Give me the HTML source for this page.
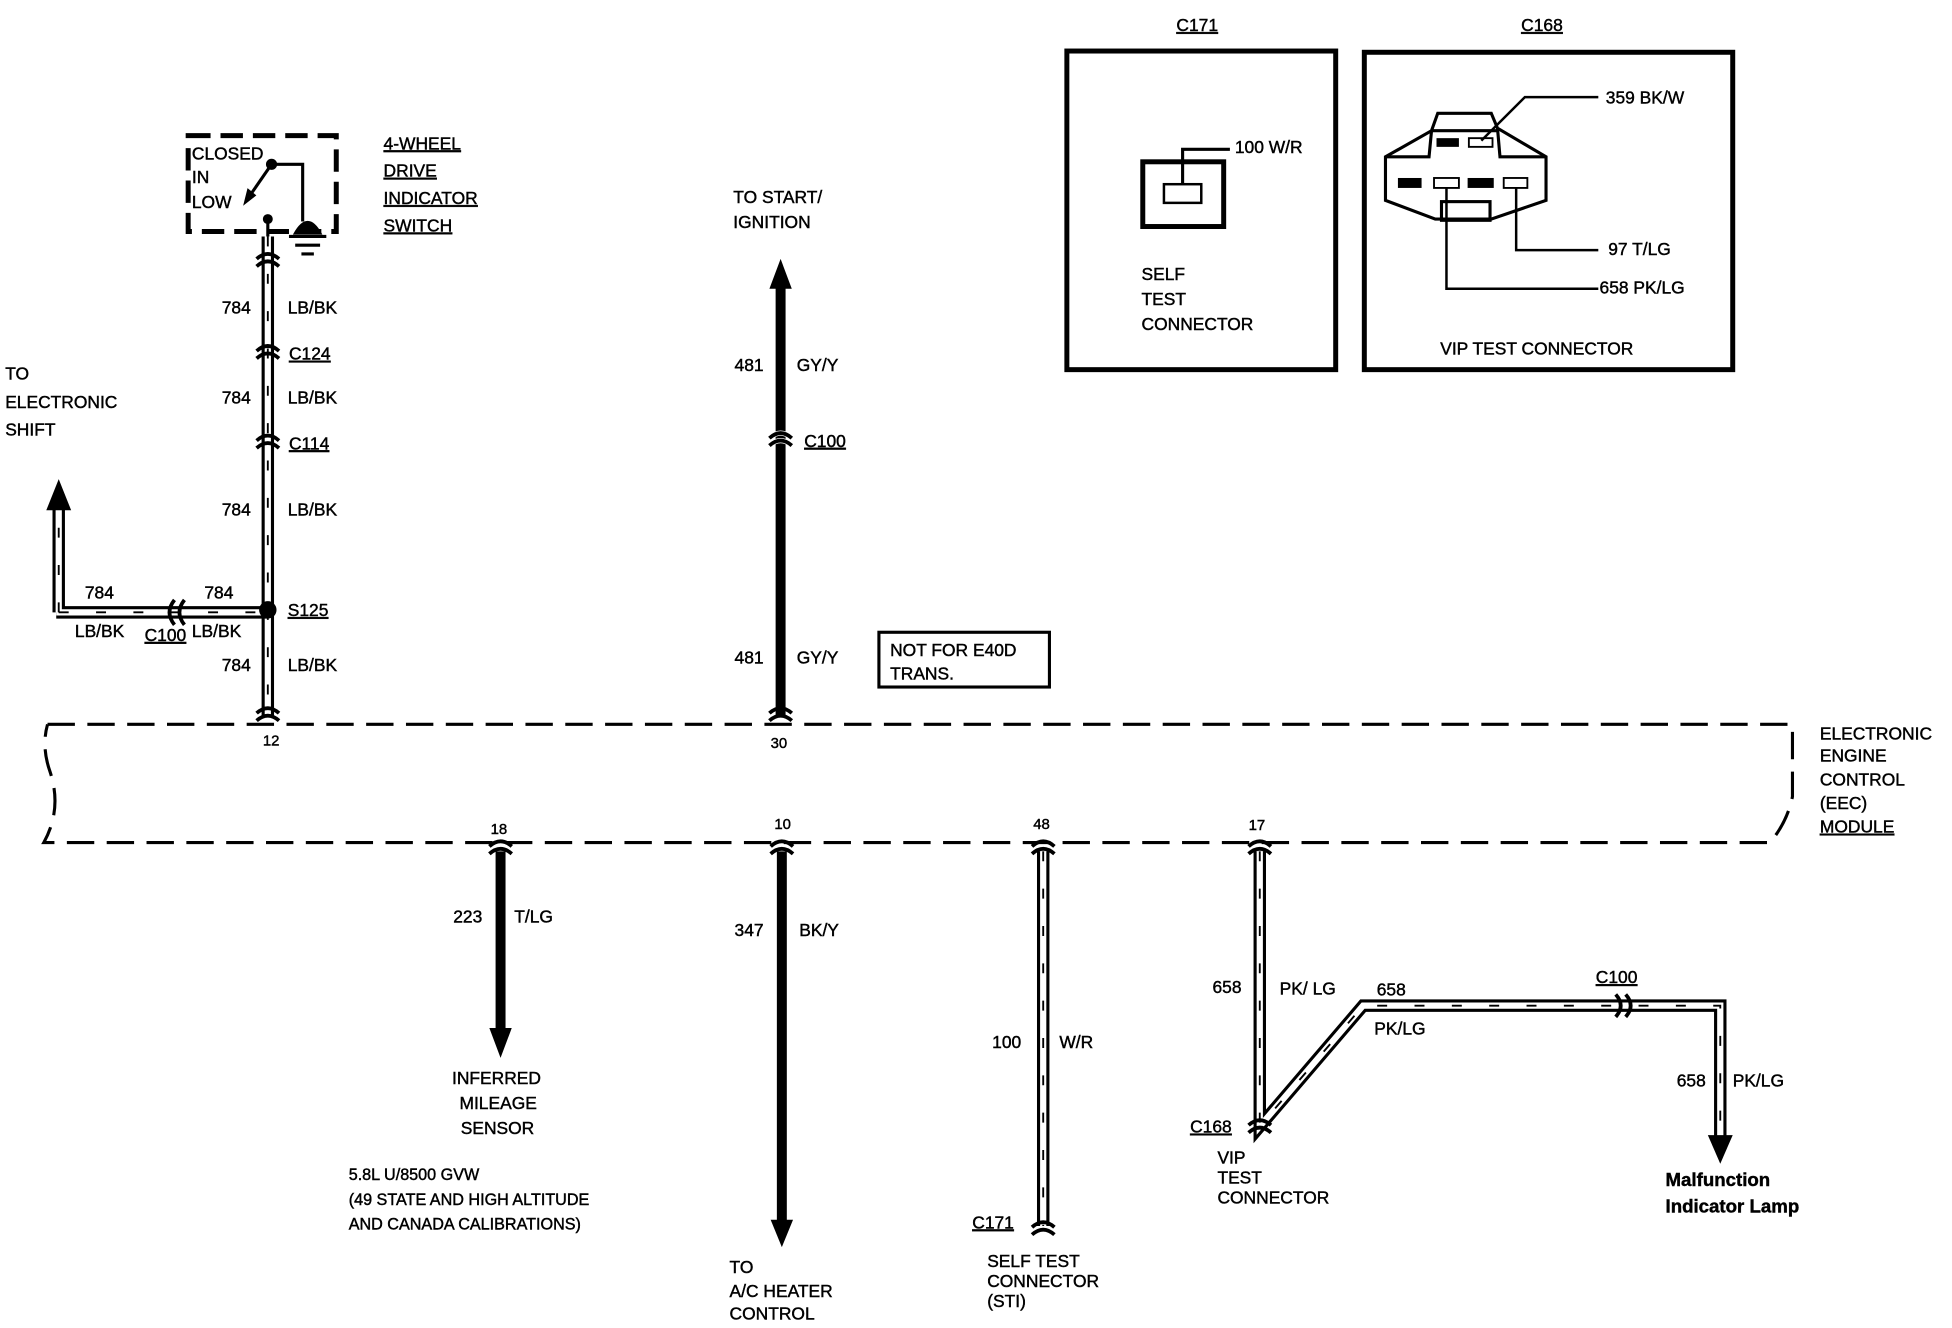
<!DOCTYPE html>
<html><head><meta charset="utf-8"><style>
html,body{margin:0;padding:0;background:#fff}
svg{display:block}
text{font-family:"Liberation Sans",sans-serif;font-size:14px;fill:#000;stroke:#000;stroke-width:0.35px}
.u{text-decoration:underline}
</style></head><body>
<svg width="1952" height="1328" viewBox="0 0 1568 1067" xmlns="http://www.w3.org/2000/svg">
<defs>
<g id="cv"><path d="M-9,-2 Q0,-10 9,-2 M-9,4 Q0,-4 9,4" fill="none" stroke="#000" stroke-width="3"/></g>
</defs>
<g fill="none" stroke="#000">
<rect x="151" y="109" width="119" height="77" stroke-width="4" stroke-dasharray="18 8"/>
<path d="M218,132 H243 V178" stroke-width="2.5"/>
<circle cx="218" cy="132" r="4" fill="#000"/>
<path d="M218,132 L200,158" stroke-width="2.5"/>
<path d="M196,164 L199,152 L205,157 Z" fill="#000"/>
<circle cx="215" cy="176" r="3.5" fill="#000"/>
<path d="M215,176 V190" stroke-width="2.5"/>
<path d="M236,188 Q247,168 258,188 Z" fill="#000"/>
<path d="M232,190 H262 M237,197 H257 M242,204 H252" stroke-width="2.5"/>
<path d="M215,190 V575" stroke-width="10"/>
<path d="M215,190 V575" stroke="#fff" stroke-width="5"/>
<path d="M215,190 V575" stroke-width="1.5" stroke-dasharray="8 22"/>
<path d="M45,492 H215 M47,492 V405" stroke-width="10"/>
<path d="M45,492 H215 M47,492 V405" stroke="#fff" stroke-width="5"/>
<path d="M47,492 H215 M47,492 V405" stroke-width="1.5" stroke-dasharray="8 22"/>
</g>
<path d="M47,385 L37,410 H57 Z"/>
<use href="#cv" x="215" y="210"/>
<use href="#cv" x="215" y="284"/>
<use href="#cv" x="215" y="356"/>
<use href="#cv" x="215" y="575"/>
<g fill="none" stroke="#000" stroke-width="3"><path d="M140,482 Q132,492 140,502 M148,482 Q140,492 148,502"/></g>
<circle cx="215" cy="490" r="7"/>
<text x="154" y="128">CLOSED</text><text x="154" y="147">IN</text><text x="154" y="167">LOW</text>
<text x="308" y="120" class="u">4-WHEEL</text><text x="308" y="142" class="u">DRIVE</text>
<text x="308" y="164" class="u">INDICATOR</text><text x="308" y="186" class="u">SWITCH</text>
<text x="178" y="252">784</text><text x="231" y="252">LB/BK</text>
<text x="232" y="289" class="u">C124</text>
<text x="178" y="324">784</text><text x="231" y="324">LB/BK</text>
<text x="232" y="361" class="u">C114</text>
<text x="178" y="414">784</text><text x="231" y="414">LB/BK</text>
<text x="231" y="495" class="u">S125</text>
<text x="178" y="539">784</text><text x="231" y="539">LB/BK</text>
<text x="68" y="481">784</text><text x="164" y="481">784</text>
<text x="60" y="512">LB/BK</text><text x="116" y="515" class="u">C100</text><text x="154" y="512">LB/BK</text>
<text x="4" y="305">TO</text><text x="4" y="328">ELECTRONIC</text><text x="4" y="350">SHIFT</text>
<path d="M627,228 V575" stroke="#000" stroke-width="8" fill="none"/>
<path d="M627,208 L618,232 H636 Z"/>
<g transform="translate(627,354)"><path d="M-9,-2 Q0,-10 9,-2 M-9,4 Q0,-4 9,4" fill="none" stroke="#fff" stroke-width="4"/></g>
<use href="#cv" x="627" y="354"/><use href="#cv" x="627" y="575"/>
<text x="589" y="163">TO START/</text><text x="589" y="183">IGNITION</text>
<text x="590" y="298">481</text><text x="640" y="298">GY/Y</text>
<text x="646" y="359" class="u">C100</text>
<text x="590" y="533">481</text><text x="640" y="533">GY/Y</text>
<rect x="706" y="508" width="137" height="44" fill="none" stroke="#000" stroke-width="2.5"/>
<text x="715" y="527">NOT FOR E40D</text><text x="715" y="546">TRANS.</text>
<g fill="none" stroke="#000" stroke-width="2.5" stroke-dasharray="22 10">
<path d="M38,582 H1440 V640 Q1436,660 1422,677 H35 Q50,650 40,620 Q33,600 38,582"/>
</g>
<text x="211" y="599" style="font-size:12px">12</text>
<text x="619" y="601" style="font-size:12px">30</text>
<text x="394" y="670" style="font-size:12px">18</text>
<text x="622" y="666" style="font-size:12px">10</text>
<text x="830" y="666" style="font-size:12px">48</text>
<text x="1003" y="667" style="font-size:12px">17</text>
<text x="1462" y="594">ELECTRONIC</text><text x="1462" y="612">ENGINE</text><text x="1462" y="631">CONTROL</text>
<text x="1462" y="650">(EEC)</text><text x="1462" y="669" class="u">MODULE</text>
<g fill="none" stroke="#000">
<path d="M402,684 V832" stroke-width="8"/>
<path d="M628,684 V985" stroke-width="8"/>
<path d="M838,684 V985" stroke-width="10"/><path d="M838,684 V985" stroke="#fff" stroke-width="5"/>
<path d="M838,684 V985" stroke-width="1.5" stroke-dasharray="8 22"/>
<path d="M1012,684 V905 L1095,808 H1382 V915" stroke-width="10" stroke-linejoin="miter"/>
<path d="M1012,684 V905 L1095,808 H1382 V915" stroke="#fff" stroke-width="5"/>
<path d="M1012,684 V905 L1095,808 H1382 V915" stroke-width="1.5" stroke-dasharray="8 22"/>
</g>
<path d="M402,850 L393,826 H411 Z"/><path d="M628,1002 L619,980 H637 Z"/><path d="M1382,935 L1372,912 H1392 Z"/>
<use href="#cv" x="402" y="682"/><use href="#cv" x="628" y="682"/><use href="#cv" x="838" y="682"/><use href="#cv" x="1012" y="682"/>
<use href="#cv" x="838" y="988"/><use href="#cv" x="1012" y="906"/>
<g fill="none" stroke="#000" stroke-width="3"><path d="M1298,799 Q1306,808 1298,817 M1306,799 Q1314,808 1306,817"/></g>
<text x="364" y="741">223</text><text x="413" y="741">T/LG</text>
<text x="363" y="871">INFERRED</text><text x="369" y="891">MILEAGE</text><text x="370" y="911">SENSOR</text>
<text x="280" y="948" style="font-size:13px">5.8L U/8500 GVW</text>
<text x="280" y="968" style="font-size:13px">(49 STATE AND HIGH ALTITUDE</text>
<text x="280" y="988" style="font-size:13px">AND CANADA CALIBRATIONS)</text>
<text x="590" y="752">347</text><text x="642" y="752">BK/Y</text>
<text x="586" y="1023">TO</text><text x="586" y="1042">A/C HEATER</text><text x="586" y="1060">CONTROL</text>
<text x="797" y="842">100</text><text x="851" y="842">W/R</text>
<text x="781" y="987" class="u">C171</text>
<text x="793" y="1018">SELF TEST</text><text x="793" y="1034">CONNECTOR</text><text x="793" y="1050">(STI)</text>
<text x="974" y="798">658</text><text x="1028" y="799">PK/ LG</text>
<text x="1106" y="800">658</text><text x="1104" y="831">PK/LG</text>
<text x="1282" y="790" class="u">C100</text>
<text x="1347" y="873">658</text><text x="1392" y="873">PK/LG</text>
<text x="956" y="910" class="u">C168</text>
<text x="978" y="935">VIP</text><text x="978" y="951">TEST</text><text x="978" y="967">CONNECTOR</text>
<text x="1338" y="953" style="font-weight:bold;font-size:15px">Malfunction</text>
<text x="1338" y="974" style="font-weight:bold;font-size:15px">Indicator Lamp</text>
<text x="945" y="25" class="u">C171 </text>
<rect x="857" y="41" width="216" height="256" fill="none" stroke="#000" stroke-width="4"/>
<rect x="918" y="130" width="65" height="52" fill="none" stroke="#000" stroke-width="4"/>
<rect x="935" y="148" width="30" height="15" fill="none" stroke="#000" stroke-width="2"/>
<path d="M950,148 V120 H988" fill="none" stroke="#000" stroke-width="2.5"/>
<text x="992" y="123">100 W/R</text>
<text x="917" y="225">SELF</text><text x="917" y="245">TEST</text><text x="917" y="265">CONNECTOR</text>
<text x="1222" y="25" class="u">C168 </text>
<rect x="1096" y="42" width="296" height="255" fill="none" stroke="#000" stroke-width="4"/>
<g fill="none" stroke="#000" stroke-width="2.5">
<path d="M1113,126 V161 L1153,176 H1198 L1242,161 V126 L1203,103 L1198,91 H1155 L1150,105 Z"/>
<path d="M1113,126 H1148 L1150,105 M1242,126 H1205 L1203,103 M1150,105 H1203"/>
<rect x="1158" y="162" width="39" height="15"/>
<rect x="1180" y="111" width="19" height="7" stroke-width="1.5"/>
<rect x="1152" y="143" width="20" height="8" stroke-width="1.5"/>
<rect x="1208" y="143" width="19" height="8" stroke-width="1.5"/>
<path d="M1190,113 L1225,78 H1284 M1218,151 V201 H1284 M1162,151 V232 H1284" stroke-width="2"/>
</g>
<rect x="1154" y="111" width="18" height="7"/>
<rect x="1123" y="143" width="19" height="8"/><rect x="1179" y="143" width="21" height="8"/>
<text x="1290" y="83">359 BK/W</text><text x="1292" y="205">97 T/LG</text><text x="1285" y="236">658 PK/LG</text>
<text x="1157" y="285">VIP TEST CONNECTOR</text>
</svg>
</body></html>
